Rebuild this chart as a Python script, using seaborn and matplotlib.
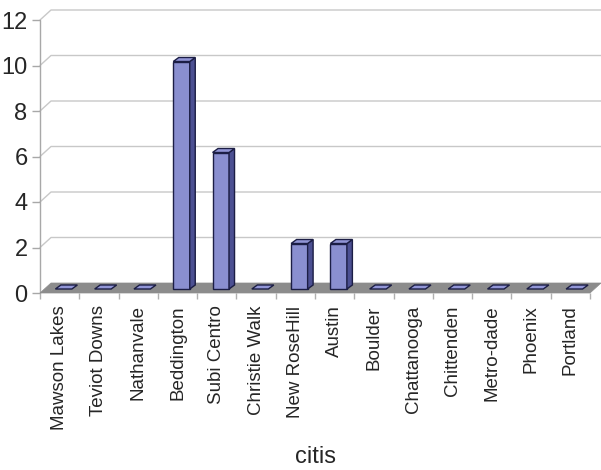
import numpy as np
import pandas as pd
import matplotlib
matplotlib.use("Agg")
import matplotlib.pyplot as plt
from matplotlib.patches import Polygon
import seaborn as sns

cities = ["Mawson Lakes", "Teviot Downs", "Nathanvale", "Beddington", "Subi Centro",
          "Christie Walk", "New RoseHill", "Austin", "Boulder", "Chattanooga",
          "Chittenden", "Metro-dade", "Phoenix", "Portland"]
counts = [0, 0, 0, 10, 6, 0, 2, 2, 0, 0, 0, 0, 0, 0]
y_ticks = [0, 2, 4, 6, 8, 10, 12]
x_title = "citis"

sns.set_style("white")
plt.rcParams["font.family"] = ["Liberation Sans", "DejaVu Sans"]

W, H = 601, 470
fig = plt.figure(figsize=(W / 100, H / 100), dpi=100)
L, R, B, T = 40, 590, 293, 20
ax = fig.add_axes([L / W, (H - B) / H, (R - L) / W, (B - T) / H])

df = pd.DataFrame({"city": cities, "count": counts})
front = "#8a8fd0"
side = "#4c5092"
topc = "#9195d6"
edge = "#1c1e45"
sns.barplot(data=df, x="city", y="count", color=front, width=0.42,
            edgecolor=edge, linewidth=1.0, saturation=1, ax=ax, zorder=3)

n = len(cities)
ax.set_xlim(-0.5, n - 0.5)
ax.set_ylim(0, 12)
px_x = (R - L) / n          # pixels per category
px_y = (B - T) / 12.0       # pixels per unit
def dx(p): return p / px_x
def dy(p): return p / px_y

# back wall offset
ox, oy = dx(11), dy(10)

for s in ax.spines.values():
    s.set_visible(False)

# gridlines on back wall + left wall diagonals
for v in y_ticks[1:]:
    ax.plot([-0.5, -0.5 + ox, n - 0.5 + ox], [v, v + oy, v + oy],
            color="#c8c8c8", lw=1.0, zorder=0, clip_on=False)
# left axis line
ax.plot([-0.5, -0.5], [0, 12], color="#a8a8a8", lw=1.0, zorder=1, clip_on=False)

# floor
floor = Polygon([(-0.5, 0), (n - 0.5, 0), (n - 0.5 + ox, oy), (-0.5 + ox, oy)],
                closed=True, facecolor="#8c8c8c", edgecolor="#8c8c8c", lw=0.5,
                zorder=1, clip_on=False)
ax.add_patch(floor)

# 3D bar decorations
sx, sy = dx(4), dy(4)
tdx, tdy = dx(5.5), dy(4)
for p in list(ax.patches):
    if p is floor:
        continue
    x0 = p.get_x() + sx
    w = p.get_width()
    h = p.get_height()
    b = sy
    t = sy + h
    p.set_x(x0)
    p.set_y(b)
    if h <= 0:
        p.set_visible(False)
    else:
        ax.add_patch(Polygon([(x0 + w, b), (x0 + w + tdx, b + tdy),
                              (x0 + w + tdx, t + tdy), (x0 + w, t)],
                             closed=True, facecolor=side, edgecolor=edge,
                             lw=1.0, zorder=3, clip_on=False))
    ax.add_patch(Polygon([(x0, t), (x0 + w, t), (x0 + w + tdx, t + tdy), (x0 + tdx, t + tdy)],
                         closed=True, facecolor=topc, edgecolor=edge,
                         lw=1.0, zorder=4, clip_on=False))

# ticks
ax.set_yticks(y_ticks)
ax.set_yticklabels([str(v) for v in y_ticks], fontsize=17)
ax.tick_params(axis="y", which="major", left=True, length=6, width=1,
               color="#a8a8a8", pad=3)
ax.set_xticks(range(n))
ax.set_xticklabels(cities, rotation=90, fontsize=13.5)
ax.set_xticks(np.arange(-0.5, n, 1.0), minor=True)
ax.tick_params(axis="x", which="major", bottom=True, length=0, pad=9)
ax.tick_params(axis="x", which="minor", bottom=True, length=4, width=1,
               color="#b0b0b0")
ax.set_xlabel(x_title, fontsize=17)
ax.set_ylabel("")
ax.xaxis.set_label_coords(0.5, -0.56)

fig.savefig("out.png", dpi=100, facecolor="white")
